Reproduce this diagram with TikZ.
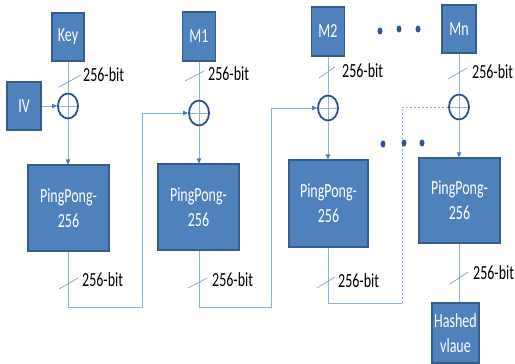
\documentclass[tikz,border=0pt]{standalone}
\usepackage{fontspec}
\setmainfont[FakeStretch=0.7]{Carlito}
\usetikzlibrary{arrows.meta,shapes.geometric}
\definecolor{boxfill}{HTML}{4F81BD}
\definecolor{boxline}{HTML}{385D8A}
\definecolor{wire}{HTML}{8DB3E2}
\definecolor{tipc}{HTML}{4A7EBB}
\definecolor{xorc}{HTML}{2F4F8A}
\definecolor{dotc}{HTML}{2F5597}
\begin{document}
\begin{tikzpicture}[x=1pt,y=-1pt,
  every node/.style={font=\fontsize{20}{25}\selectfont},
  blk/.style={draw=boxline,fill=boxfill,line width=1.2pt,text=white,inner sep=0pt,align=center},
  xorn/.style={ellipse,draw=xorc,line width=1.8pt,minimum width=20pt,minimum height=25pt,inner sep=0pt,
    path picture={\draw[wire,line width=0.8pt] (path picture bounding box.north) -- (path picture bounding box.south)
      (path picture bounding box.west) -- (path picture bounding box.east);}},
  wireline/.style={draw=wire,line width=1pt},
  arr/.style={wireline,-{Triangle[length=5pt,width=4.5pt,color=tipc]}},
  slashline/.style={draw=wire!80!black!40!wire,line width=0.7pt},
  lbl/.style={anchor=west,inner sep=0pt,text=black},
  dotn/.style={ellipse,fill=dotc,minimum width=5pt,minimum height=7pt,inner sep=0pt}
]
\useasboundingbox (0,0) rectangle (515,364);

% top inputs
\node[blk,minimum width=32pt,minimum height=48pt] (key) at (68,37) {Key};
\node[blk,minimum width=33pt,minimum height=49pt] (m1) at (199,36.5) {M1};
\node[blk,minimum width=33pt,minimum height=49pt] (m2) at (328,31.5) {M2};
\node[blk,minimum width=34pt,minimum height=48pt] (mn) at (459,29) {Mn};
\node[blk,minimum width=34pt,minimum height=48pt] (iv) at (24,106) {IV};

% xor
\node[xorn] (x1) at (68,106) {};
\node[xorn] (x2) at (199,113) {};
\node[xorn] (x3) at (328,108) {};
\node[xorn] (xn) at (459,107) {};

% pingpong blocks
\node[blk,minimum width=81pt,minimum height=86pt] (p1) at (68.5,208) {PingPong-\\256};
\node[blk,minimum width=81pt,minimum height=86pt] (p2) at (198.5,207) {PingPong-\\256};
\node[blk,minimum width=79pt,minimum height=87pt] (p3) at (328.5,203.5) {PingPong-\\256};
\node[blk,minimum width=81pt,minimum height=85pt] (p4) at (459.5,200.5) {PingPong-\\256};
\node[blk,minimum width=47pt,minimum height=60pt] (hv) at (455.5,333) {Hashed\\vlaue};

% corner coordinates
\coordinate (c1) at (142,307);
\coordinate (c2) at (271,307);
\coordinate (c3) at (402,303);

% connectors
\draw[wireline] (key.south) -- (x1.north);
\draw[arr] (iv.east) -- (x1.west);
\draw[arr] (x1.south) -- (x1.south |- p1.north);
\draw[wireline] (m1.south) -- (x2.north);
\draw[arr] (x2.south) -- (x2.south |- p2.north);
\draw[wireline] (m2.south) -- (x3.north);
\draw[arr] (x3.south) -- (x3.south |- p3.north);
\draw[wireline] (mn.south) -- (xn.north);
\draw[arr] (xn.south) -- (xn.south |- p4.north);
\draw[wireline] (xn.south |- p4.south) -- (xn.south |- hv.north);

\draw[arr] (x1.south |- p1.south) |- (c1) |- (x2.west);
\draw[arr] (x2.south |- p2.south) |- (c2) |- (x3.west);
\draw[wireline] (x3.south |- p3.south) |- (c3);
\draw[wireline,dashed,dash pattern=on 2pt off 2pt] (c3) |- (xn.west);

% bit-width slashes and labels
\draw[slashline] (59,87) -- (81,75);   \node[lbl] at (83,75) {256-bit};
\draw[slashline] (185,81) -- (204,71); \node[lbl] at (208,74) {256-bit};
\draw[slashline] (319,78) -- (335,67); \node[lbl] at (342,71) {256-bit};
\draw[slashline] (448,79) -- (467,68); \node[lbl] at (472,72) {256-bit};
\draw[slashline] (59,289) -- (78,278); \node[lbl] at (82,280) {256-bit};
\draw[slashline] (188,288) -- (207,278); \node[lbl] at (212,280) {256-bit};
\draw[slashline] (317,288) -- (335,277); \node[lbl] at (338,281) {256-bit};
\draw[slashline] (450,284) -- (468,272); \node[lbl] at (473,273) {256-bit};

% ellipsis dots
\node[dotn] (d1) at (380,31) {};
\node[dotn] (d2) at (399,29) {};
\node[dotn] (d3) at (418,29) {};
\node[dotn] (d4) at (383,144) {};
\node[dotn] (d5) at (404,143) {};
\node[dotn] (d6) at (422,143) {};
\end{tikzpicture}
\end{document}
